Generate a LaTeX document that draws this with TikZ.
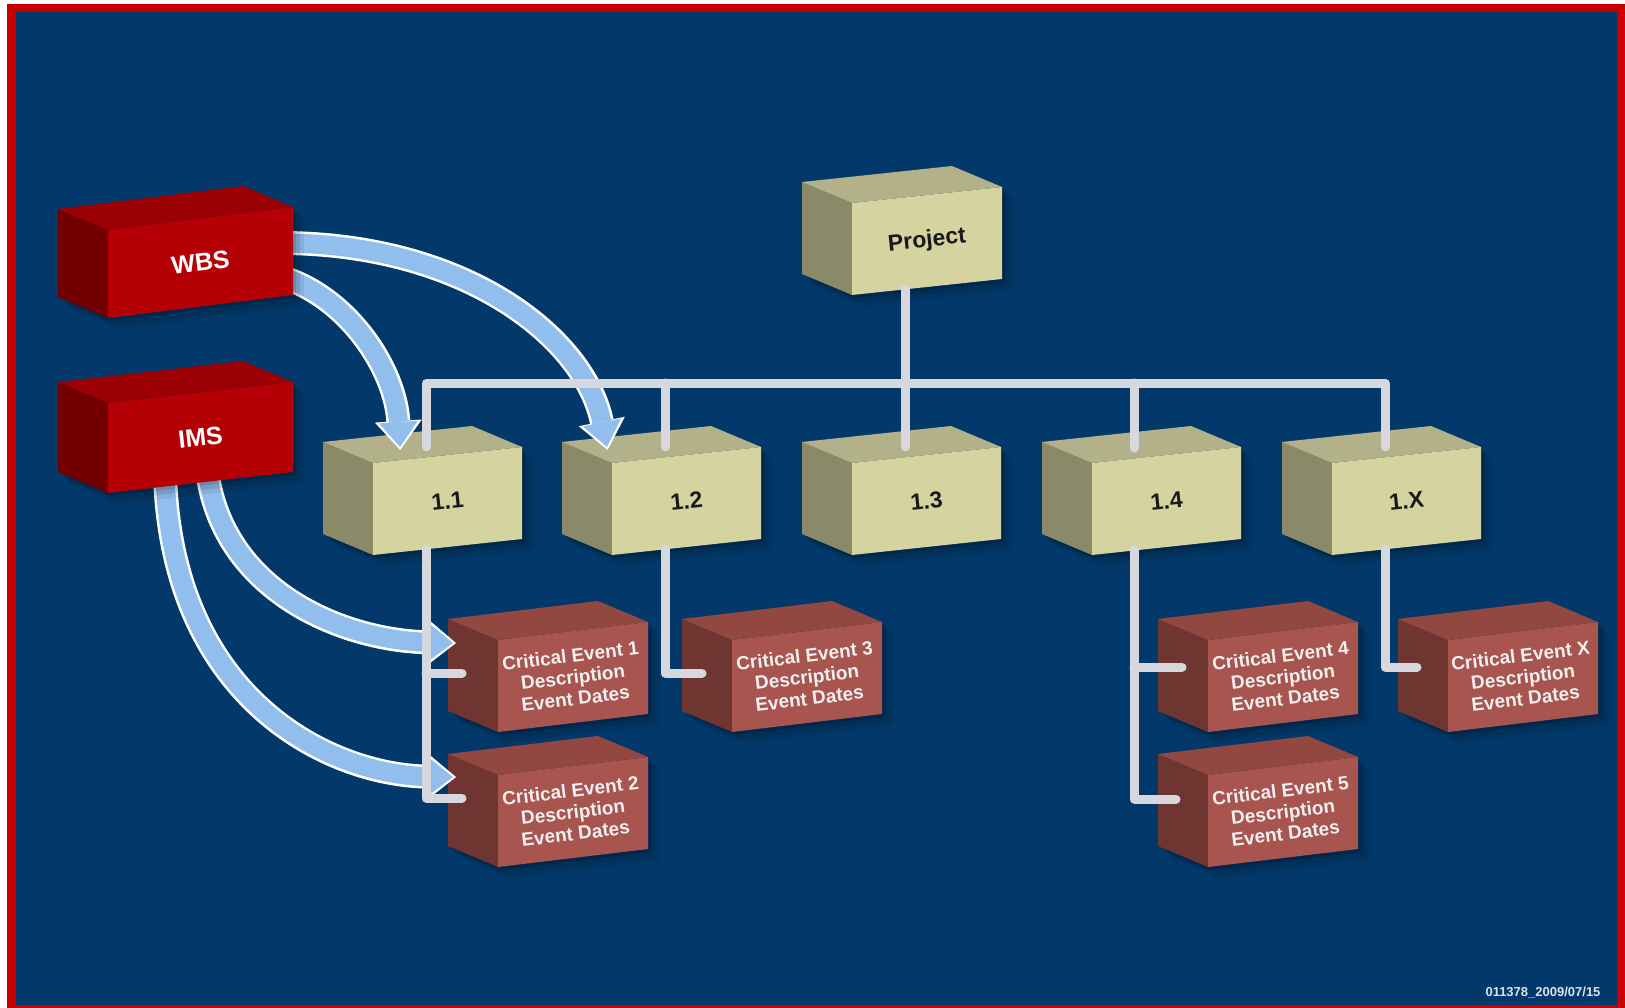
\documentclass[tikz,border=0pt]{standalone}
\usepackage{fontspec}
\setmainfont{Liberation Sans}
\usetikzlibrary{arrows.meta}
\definecolor{bg}{RGB}{3,57,106}
\definecolor{framered}{RGB}{200,0,0}
\definecolor{redF}{RGB}{181,0,5}
\definecolor{redT}{RGB}{155,0,5}
\definecolor{redS}{RGB}{115,0,0}
\definecolor{tanF}{RGB}{213,211,160}
\definecolor{tanT}{RGB}{179,177,138}
\definecolor{tanS}{RGB}{139,138,104}
\definecolor{ceF}{RGB}{168,84,79}
\definecolor{ceT}{RGB}{146,72,65}
\definecolor{ceS}{RGB}{111,53,49}
\definecolor{linegrey}{RGB}{215,216,222}
\definecolor{flowblue}{RGB}{146,190,238}
\tikzset{
  lblred/.style={text=white, font=\bfseries\fontsize{25}{28}\selectfont},
  lbltan/.style={text=black!90, font=\bfseries\fontsize{23}{26}\selectfont},
  lblce/.style={text=white!94!black, font=\bfseries\fontsize{19}{21.5}\selectfont, align=center},
  conn/.style={draw=linegrey, line width=9pt, line cap=round, line join=round},
  flowedge/.style={draw=white, line width=24pt, shorten >=-3pt,
    -{Triangle[length=29pt,width=47pt,line width=0pt]}},
  flow/.style={draw=flowblue, line width=19pt,
    -{Triangle[length=25pt,width=39pt,line width=0pt]}},
}
% #1 name, #2 x, #3 y (front top-left), #4 w, #5 h, #6 rise, #7 colour prefix, #8 label style, #9 text
\newcommand\mycube[9]{%
  \foreach \o/\a in {3/0.12,7/0.10,11/0.08}{%
    \fill[black,opacity=\a] ({#2-50+\o},{#3-21+\o}) -- ({#2+#4-50+\o},{#3-#6-21+\o})
      -- ({#2+#4+\o},{#3-#6+\o}) -- ({#2+#4+\o},{#3-#6+#5+\o}) -- ({#2+\o},{#3+#5+\o})
      -- ({#2-50+\o},{#3+#5-21+\o}) -- cycle;}
  \fill[#7S] (#2,#3) -- ++(-50,-21) -- ++(0,#5) -- (#2,{#3+#5}) -- cycle;
  \fill[#7T] (#2,#3) -- ({#2+#4},{#3-#6}) -- ++(-50,-21) -- ({#2-50},{#3-21}) -- cycle;
  \fill[#7F] (#2,#3) -- ({#2+#4},{#3-#6}) -- ++(0,#5) -- (#2,{#3+#5}) -- cycle;
  \node[#8, rotate={atan(#6/#4)}] (#1) at ({#2+#4/2},{#3+(#5-#6)/2}) {#9};
  \coordinate (#1-top) at ({#2+53},{#3-#6*53/#4-10.5});
  \coordinate (#1-bot) at ({#2+53},{#3+#5-#6*53/#4});
}
\begin{document}
\begin{tikzpicture}[x=1pt,y=-1pt]
\useasboundingbox (0,0) rectangle (1625,1008);
\fill[framered] (7,4) rectangle (1625,1008);
\fill[bg] (16,12) rectangle (1617,1005);

% WBS level-1 boxes
\mycube{proj}{852}{203}{150}{92}{16}{tan}{lbltan}{Project}
\mycube{b11}{373}{463}{149}{92}{16}{tan}{lbltan}{1.1}
\mycube{b12}{612}{463}{149}{92}{16}{tan}{lbltan}{1.2}
\mycube{b13}{852}{463}{149}{92}{16}{tan}{lbltan}{1.3}
\mycube{b14}{1092}{463}{149}{92}{16}{tan}{lbltan}{1.4}
\mycube{b1X}{1332}{463}{149}{92}{16}{tan}{lbltan}{1.X}
% the 1.4 connector sits a little further left on its box
\coordinate (b14-top) at (1134,448);
\coordinate (b14-bot) at (1134,550);

% critical events
\mycube{ce1}{498}{640}{150}{92}{18}{ce}{lblce}{Critical Event 1\\Description\\Event Dates}
\mycube{ce2}{498}{775}{150}{92}{18}{ce}{lblce}{Critical Event 2\\Description\\Event Dates}
\mycube{ce3}{732}{640}{150}{92}{18}{ce}{lblce}{Critical Event 3\\Description\\Event Dates}
\mycube{ce4}{1208}{640}{150}{92}{18}{ce}{lblce}{Critical Event 4\\Description\\Event Dates}
\mycube{ce5}{1208}{775}{150}{92}{18}{ce}{lblce}{Critical Event 5\\Description\\Event Dates}
\mycube{ceX}{1448}{640}{150}{92}{18}{ce}{lblce}{Critical Event X\\Description\\Event Dates}

% arrow coordinates
\coordinate (wA) at (285,243);
\coordinate (wB) at (285,278);
\coordinate (iC) at (207,470);
\coordinate (iD) at (165,475);
\coordinate (tA) at (607,447);
\coordinate (tB) at (400,447);
\coordinate (tC) at (453,643);
\coordinate (tD) at (453,777);

\draw[flowedge] (wA) .. controls (470,245) and (585,340) .. (tA);
\draw[flow]     (wA) .. controls (470,245) and (585,340) .. (tA);
\draw[flowedge] (wB) .. controls (350,300) and (395,370) .. (tB);
\draw[flow]     (wB) .. controls (350,300) and (395,370) .. (tB);
\draw[flowedge] (iC) .. controls (222,590) and (340,640) .. (tC);
\draw[flow]     (iC) .. controls (222,590) and (340,640) .. (tC);
\draw[flowedge] (iD) .. controls (172,700) and (330,775) .. (tD);
\draw[flow]     (iD) .. controls (172,700) and (330,775) .. (tD);

% source boxes
\mycube{wbs}{108}{230}{185}{88}{23}{red}{lblred}{WBS}
\mycube{ims}{108}{403}{185}{90}{21}{red}{lblred}{IMS}

% connectors
\coordinate (bus) at (0,383);
\coordinate (ce1-in) at (462,673);
\coordinate (ce2-in) at (462,798);
\coordinate (ce3-in) at (702,673);
\coordinate (ce4-in) at (1182,667);
\coordinate (ce5-in) at (1176,799);
\coordinate (ceX-in) at (1417,667);

\draw[conn] (proj-bot) -- (b13-top);
\draw[conn] (b11-top) -- (b11-top |- bus) -| (b1X-top);
\draw[conn] (b12-top) -- (b12-top |- bus);
\draw[conn] (b14-top) -- (b14-top |- bus);

\draw[conn] (b11-bot) |- (ce2-in);
\draw[conn] (b11-bot |- ce1-in) -- (ce1-in);
\draw[conn] (b12-bot) |- (ce3-in);
\draw[conn] (b14-bot) |- (ce5-in);
\draw[conn] (b14-bot |- ce4-in) -- (ce4-in);
\draw[conn] (b1X-bot) |- (ceX-in);

\node[anchor=east, text=white!85!bg, font=\bfseries\fontsize{13}{13}\selectfont] (stamp) at (1604,993) {011378\_2009/07/15};
\end{tikzpicture}
\end{document}
